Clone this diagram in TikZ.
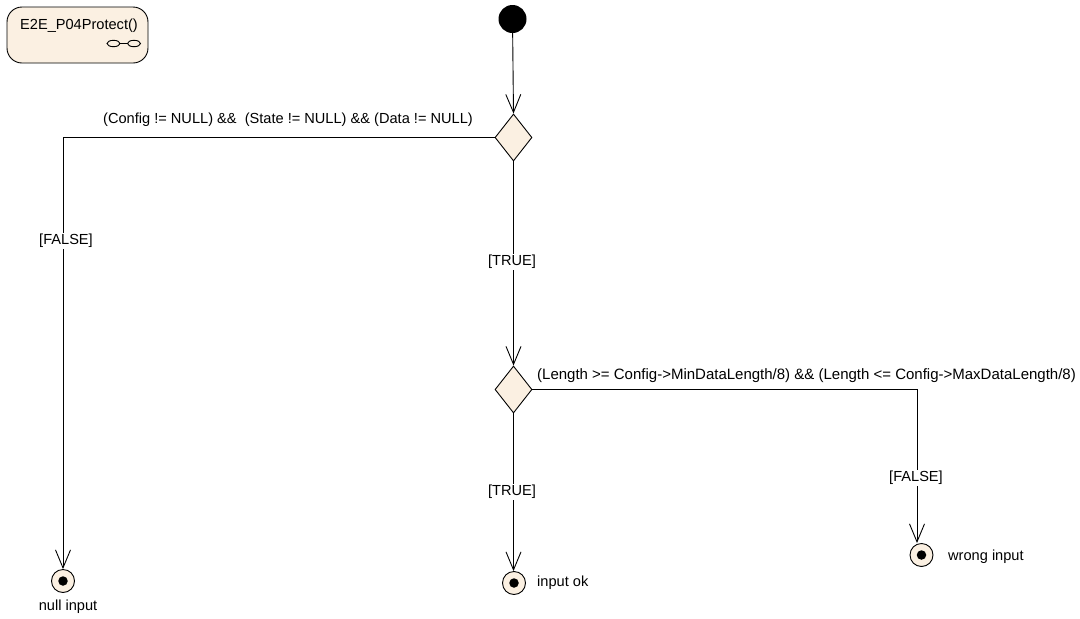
\documentclass[tikz,border=0pt]{standalone}
\usepackage{fontspec}
\setmainfont{Liberation Sans}
\usetikzlibrary{shapes.geometric,arrows.meta}
\definecolor{beige}{HTML}{FBF0E2}
\tikzset{
  lbl/.style={font=\fontsize{14.6}{17}\selectfont, inner sep=1pt},
  guard/.style={lbl, fill=white},
  dec/.style={diamond, draw, fill=beige, minimum width=37pt, minimum height=47pt, inner sep=0pt, line width=0.9pt},
  fin/.style={circle, draw, fill=beige, minimum size=23pt, inner sep=0pt, line width=0.9pt},
  dot/.style={circle, fill=black, minimum size=9.5pt, inner sep=0pt},
  flow/.style={line width=0.9pt, -{Straight Barb[length=18pt,width=15pt,line width=0.9pt]}},
}
\begin{document}
\begin{tikzpicture}[x=1pt,y=-1pt]
\useasboundingbox (0,0) rectangle (1080,619);
% state box
\node[draw, fill=beige, rounded corners=15pt, line width=0.9pt, minimum width=141pt, minimum height=56pt, inner sep=0pt] (act) at (77.5,35) {};
\node[lbl] (actname) at (79,26) {E2E\_P04Protect()};
\draw[line width=0.9pt] (113.5,43.5) ellipse (6.5pt and 3.2pt);
\draw[line width=0.9pt] (134,43.5) ellipse (6.5pt and 3.2pt);
\draw[line width=0.9pt] (120,43.5) -- (127.5,43.5);
% initial
\node[circle, fill=black, minimum size=28pt, inner sep=0pt] (init) at (512.5,19) {};
% decisions
\node[dec] (d1) at (513.5,137.5) {};
\node[dec] (d2) at (513.5,389.5) {};
% finals
\node[fin] (f1) at (63,581) {};
\node[dot] (f1c) at (f1) {};
\node[fin] (f2) at (514,583) {};
\node[dot] (f2c) at (f2) {};
\node[fin] (f3) at (921.5,555) {};
\node[dot] (f3c) at (f3) {};
% flows
\draw[flow] (init) -- (d1.north);
\draw[flow] (d1.west) -| (f1.north);
\draw[flow] (d1.south) -- (d2.north);
\draw[flow] (d2.south) -- (d2.south |- f2.north);
\draw[flow] (d2.east) -| ([xshift=-4.5pt]f3.north);
% labels
\node[lbl] (c1) at (288,120) {(Config != NULL) \&\&\ \ (State != NULL) \&\& (Data != NULL)};
\node[guard] (g1) at (66,241) {[FALSE]};
\node[guard] (g2) at (512,262) {[TRUE]};
\node[lbl, anchor=west, font=\fontsize{15}{17}\selectfont] (c2) at (536,376) {(Length >= Config->MinDataLength/8) \&\& (Length <= Config->MaxDataLength/8)};
\node[guard] (g3) at (512,492) {[TRUE]};
\node[guard] (g4) at (916,478) {[FALSE]};
\node[lbl] (n1) at (68,607) {null input};
\node[lbl, anchor=west] (n2) at (536,583) {input ok};
\node[lbl, anchor=west] (n3) at (947,557) {wrong input};
\end{tikzpicture}
\end{document}
